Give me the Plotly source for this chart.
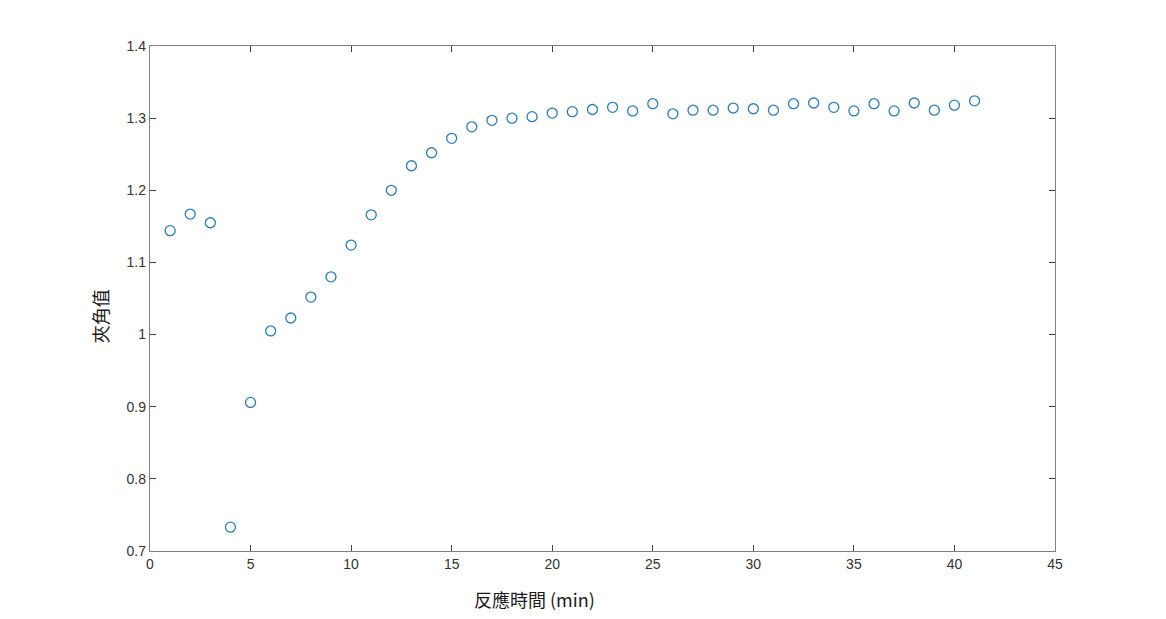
import plotly.graph_objects as go

time_min = list(range(1, 42))
angle_vals = [1.144, 1.167, 1.155, 0.733, 0.906, 1.005, 1.023, 1.052, 1.080, 1.124,
              1.166, 1.200, 1.234, 1.252, 1.272, 1.288, 1.297, 1.300, 1.302, 1.307,
              1.309, 1.312, 1.315, 1.310, 1.320, 1.306, 1.311, 1.311, 1.314, 1.313,
              1.311, 1.320, 1.321, 1.315, 1.310, 1.320, 1.310, 1.321, 1.311, 1.318,
              1.324]
x_ticks = [0, 5, 10, 15, 20, 25, 30, 35, 40, 45]
y_ticks = [0.7, 0.8, 0.9, 1.0, 1.1, 1.2, 1.3, 1.4]
y_tick_text = ["0.7", "0.8", "0.9", "1", "1.1", "1.2", "1.3", "1.4"]
x_title = "反應時間 (min)"
y_title = "夾角值"

fig = go.Figure()
fig.add_trace(go.Scatter(
    x=time_min, y=angle_vals, mode="markers",
    marker=dict(symbol="circle-open", size=10, color="#2a7db8", line=dict(width=1.3)),
    showlegend=False,
))

axis_common = dict(
    showgrid=False, zeroline=False, showline=True, linecolor="#808080", linewidth=1.3,
    mirror="ticks", ticks="inside", ticklen=6, tickcolor="#404040", tickwidth=1,
    tickfont=dict(family="Arial, Liberation Sans, sans-serif", size=14, color="#333333"),
)
fig.update_xaxes(range=[0, 45], tickvals=x_ticks, **axis_common)
fig.update_yaxes(range=[0.7, 1.4], tickvals=y_ticks, ticktext=y_tick_text, **axis_common)

title_font = dict(family="Noto Sans CJK TC, sans-serif", size=18, color="#1a1a1a")
fig.add_annotation(text=x_title, xref="paper", yref="paper", x=0.4254, y=-0.095,
                   xanchor="center", yanchor="middle", showarrow=False, font=title_font)
fig.add_annotation(text=y_title, xref="paper", yref="paper", x=-0.0552, y=0.465,
                   xanchor="center", yanchor="middle", showarrow=False, textangle=-90,
                   font=title_font)

fig.update_layout(
    width=1166, height=619,
    margin=dict(l=142, r=119, t=38, b=76),
    paper_bgcolor="white", plot_bgcolor="white",
)
fig.write_html("out.html")
